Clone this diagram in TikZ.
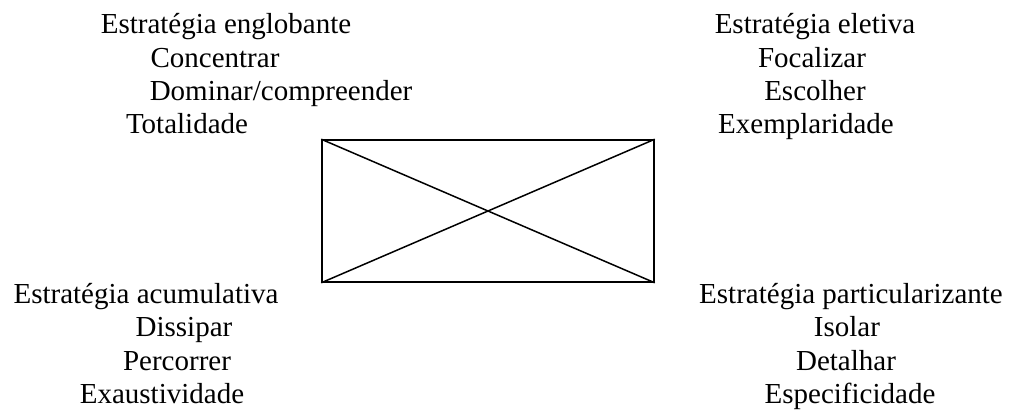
\documentclass[tikz,border=0pt]{standalone}
\usepackage{fontspec}
\setmainfont{Liberation Serif}
\begin{document}
\begin{tikzpicture}[x=1pt,y=-1pt,
  lbl/.style={anchor=base,inner sep=0pt,font=\fontsize{29}{33}\selectfont},
  boxst/.style={draw,line width=1.6pt,minimum width=332pt,minimum height=142pt,inner sep=0pt},
  diag/.style={line width=1.5pt}]
\useasboundingbox (0,0) rectangle (1010,410);
% top left
\node[lbl] (tl1) at (226,33) {Estratégia englobante};
\node[lbl] (tl2) at (215,67) {Concentrar};
\node[lbl] (tl3) at (281,100) {Dominar/compreender};
\node[lbl] (tl4) at (187,133) {Totalidade};
% top right
\node[lbl] (tr1) at (815,33) {Estratégia eletiva};
\node[lbl] (tr2) at (812,67) {Focalizar};
\node[lbl] (tr3) at (815,100) {Escolher};
\node[lbl] (tr4) at (806,133) {Exemplaridade};
% bottom left
\node[lbl] (bl1) at (146,303) {Estratégia acumulativa};
\node[lbl] (bl2) at (184,336) {Dissipar};
\node[lbl] (bl3) at (177,370) {Percorrer};
\node[lbl] (bl4) at (162,403) {Exaustividade};
% bottom right
\node[lbl] (br1) at (851,303) {Estratégia particularizante};
\node[lbl] (br2) at (847,336) {Isolar};
\node[lbl] (br3) at (846,370) {Detalhar};
\node[lbl] (br4) at (850,403) {Especificidade};
% box
\node[boxst] (box) at (488,211) {};
\draw[diag] (box.north west) -- (box.south east);
\draw[diag] (box.south west) -- (box.north east);
\end{tikzpicture}
\end{document}
